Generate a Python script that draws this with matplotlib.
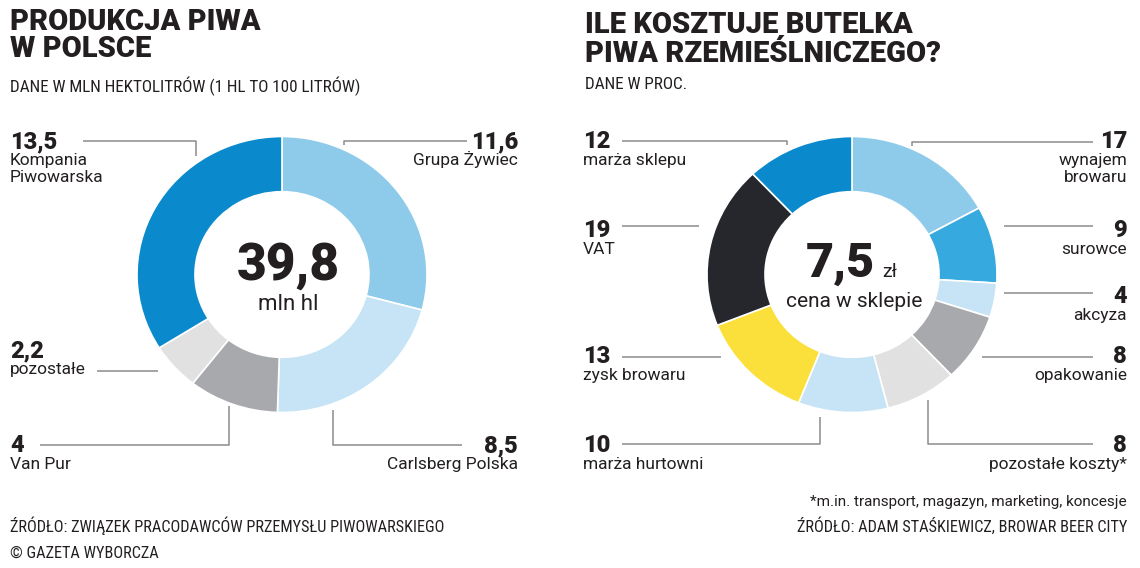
import matplotlib
matplotlib.use('Agg')
import matplotlib.pyplot as plt
from matplotlib import font_manager as fm

### ------------------- Data -------------------

# left: beer production in Poland, mln hl (clockwise from 12 o'clock)
prod_names = ['Grupa Żywiec', 'Carlsberg Polska', 'Van Pur', 'pozostałe', 'Kompania\nPiwowarska']
prod_values = [11.6, 8.5, 4, 2.2, 13.5]
prod_total = '39,8'
prod_unit = 'mln hl'

# right: cost of a craft beer bottle, percent (clockwise from 12 o'clock)
cost_names = ['wynajem\nbrowaru', 'surowce', 'akcyza', 'opakowanie', 'pozostałe koszty*',
              'marża hurtowni', 'zysk browaru', 'VAT', 'marża sklepu']
cost_values = [17, 9, 4, 8, 8, 10, 13, 19, 12]
cost_price = '7,5'
cost_unit = 'zł'
cost_caption = 'cena w sklepie'

### ------------------- Style -------------------

BLUE = '#0a8acd'
MID = '#8ecbea'
PALE = '#c6e4f5'
SKY = '#36a9df'
GREY = '#a8a9ac'
LGREY = '#e1e1e1'
YELLOW = '#fbe03c'
BLACK = '#25272c'
INK = '#231f20'
LEAD = '#8c8c8c'

prod_colors = [MID, PALE, GREY, LGREY, BLUE]
cost_colors = [MID, SKY, PALE, GREY, LGREY, PALE, YELLOW, BLACK, BLUE]

names = {f.name for f in fm.fontManager.ttflist}


def pick(*cands):
    for c in cands:
        if c in names:
            return c
    return 'DejaVu Sans'


HEAVY = pick('Roboto Black', 'Roboto', 'Inter', 'Lato')
REG = pick('Roboto', 'Open Sans', 'Liberation Sans')
COND = pick('Roboto Condensed', 'Liberation Sans Narrow', 'Roboto')
cond_size = 12.3 if COND != 'Roboto' else 10.8


def fmt(v):
    return ('%g' % v).replace('.', ',')


def txt(ax, x, y, s, size, family=REG, weight='normal', ha='left'):
    ax.text(x, y, s, fontsize=size, family=family, fontweight=weight,
            ha=ha, va='baseline', color=INK)


W, H = 1140, 568
fig = plt.figure(figsize=(W / 100, H / 100), dpi=100)
fig.patch.set_facecolor('white')

# overlay axes in pixel coordinates for text and leader lines
ov = fig.add_axes([0, 0, 1, 1])
ov.set_xlim(0, W)
ov.set_ylim(H, 0)
ov.axis('off')


def donut(cx, cy, values, colors):
    rx, ry = 145, 138
    ax = fig.add_axes([(cx - rx) / W, (H - cy - ry) / H, 2 * rx / W, 2 * ry / H])
    ax.pie(values, colors=colors, startangle=90, counterclock=False,
           wedgeprops=dict(width=0.4, edgecolor='white', linewidth=1.2))
    ax.set_aspect('auto')
    ax.set_xlim(-1, 1)
    ax.set_ylim(-1, 1)
    ax.axis('off')
    return ax


# label placement: (x, number baseline, ha, leader polyline)
prod_layout = [
    (518, 148, 'right', [(344, 145), (344, 141), (467, 141)]),
    (518, 452, 'right', [(333, 410), (333, 445), (462, 445)]),
    (10, 452, 'left', [(229, 406), (229, 445), (40, 445)]),
    (10, 357, 'left', [(97, 371), (158, 371)]),
    (10, 148, 'left', [(83, 141), (196, 141), (196, 156)]),
]
cost_layout = [
    (1127, 148, 'right', [(912, 146), (912, 142), (1093, 142)]),
    (1127, 237, 'right', [(1004, 226), (1093, 226)]),
    (1127, 303, 'right', [(1004, 293), (1093, 293)]),
    (1127, 363, 'right', [(982, 357), (1093, 357)]),
    (1127, 452, 'right', [(928, 400), (928, 444), (1093, 444)]),
    (583, 452, 'left', [(820, 417), (820, 444), (622, 444)]),
    (583, 363, 'left', [(622, 357), (721, 357)]),
    (583, 237, 'left', [(622, 226), (699, 226)]),
    (583, 148, 'left', [(622, 141), (787, 141), (787, 145)]),
]


def labels(values, lnames, layout):
    for v, n, (x, y, ha, pts) in zip(values, lnames, layout):
        xs, ys = zip(*pts)
        ov.plot(xs, ys, color=LEAD, lw=1.1, solid_capstyle='butt')
        txt(ov, x, y, fmt(v), 17, HEAVY, 'black', ha)
        for k, line in enumerate(n.split('\n')):
            txt(ov, x, y + 17 + 17 * k, line, 12.5, REG, 'normal', ha)


### ------------------- Left panel -------------------
donut(282, 274.5, prod_values, prod_colors)
txt(ov, 10, 30, 'PRODUKCJA PIWA', 21, HEAVY, 'black')
txt(ov, 10, 57, 'W POLSCE', 21, HEAVY, 'black')
txt(ov, 10, 92, 'DANE W MLN HEKTOLITRÓW (1 HL TO 100 LITRÓW)', cond_size, COND)
labels(prod_values, prod_names, prod_layout)
txt(ov, 288, 280, prod_total, 37, HEAVY, 'black', 'center')
txt(ov, 288, 310, prod_unit, 16, REG, 'normal', 'center')
txt(ov, 10, 532, 'ŹRÓDŁO: ZWIĄZEK PRACODAWCÓW PRZEMYSŁU PIWOWARSKIEGO', cond_size - 0.6, COND)
txt(ov, 10, 558, '© GAZETA WYBORCZA', cond_size - 0.6, COND)

### ------------------- Right panel -------------------
donut(852, 274.5, cost_values, cost_colors)
txt(ov, 585, 33, 'ILE KOSZTUJE BUTELKA', 21, HEAVY, 'black')
txt(ov, 585, 62, 'PIWA RZEMIEŚLNICZEGO?', 21, HEAVY, 'black')
txt(ov, 585, 89, 'DANE W PROC.', cond_size, COND)
labels(cost_values, cost_names, cost_layout)
txt(ov, 840, 277, cost_price, 35, HEAVY, 'black', 'center')
txt(ov, 882, 277, cost_unit, 14, REG, 'normal', 'left')
txt(ov, 854, 307, cost_caption, 15, REG, 'normal', 'center')
txt(ov, 1127, 506, '*m.in. transport, magazyn, marketing, koncesje', 11, REG, 'normal', 'right')
txt(ov, 1127, 532, 'ŹRÓDŁO: ADAM STAŚKIEWICZ, BROWAR BEER CITY', cond_size - 0.6, COND, 'normal', 'right')

fig.savefig('out.png', dpi=100)
